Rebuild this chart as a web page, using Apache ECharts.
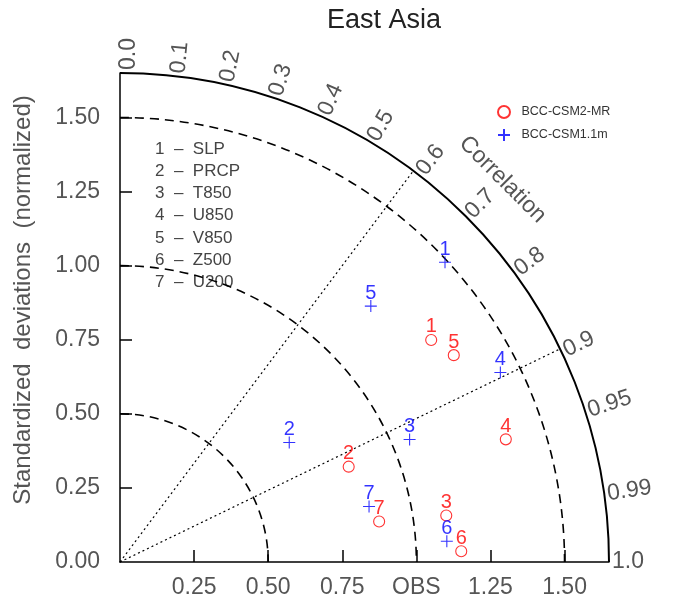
<!DOCTYPE html>
<html><head><meta charset="utf-8">
<script src="https://cdn.jsdelivr.net/npm/echarts@6/dist/echarts.min.js"></script>
<style>html,body{margin:0;padding:0;background:#fff}#c{width:676px;height:599px}</style>
</head><body><div id="c"></div>
<script>
// ---- data ----
const chartTitle = 'East Asia';
const variables = ['SLP', 'PRCP', 'T850', 'U850', 'V850', 'Z500', 'U200'];
const models = ['BCC-CSM2-MR', 'BCC-CSM1.1m'];
// normalized standard deviations and correlations
const stdMR   = [1.290, 0.836, 1.112, 1.366, 1.325, 1.152, 0.885];
const corrMR  = [0.814, 0.923, 0.990, 0.953, 0.850, 0.9995, 0.988];
const std11   = [1.492, 0.699, 1.061, 1.434, 1.209, 1.105, 0.861];
const corr11  = [0.735, 0.817, 0.921, 0.895, 0.700, 0.998, 0.976];
// axes
const maxStd = 1.65;
const xTicks = [0.25, 0.5, 0.75, 1.0, 1.25, 1.5];
const xTickLabels = ['0.25', '0.50', '0.75', 'OBS', '1.25', '1.50'];
const yTicks = [0, 0.25, 0.5, 0.75, 1.0, 1.25, 1.5];
const yTickLabels = ['0.00', '0.25', '0.50', '0.75', '1.00', '1.25', '1.50'];
const stdArcs = [0.5, 1.0, 1.5];
const corrTicks = [0, 0.1, 0.2, 0.3, 0.4, 0.5, 0.6, 0.7, 0.8, 0.9, 0.95, 0.99, 1.0];
const corrTickLabels = ['0.0', '0.1', '0.2', '0.3', '0.4', '0.5', '0.6', '0.7', '0.8', '0.9', '0.95', '0.99', '1.0'];
const corrLines = [0.6, 0.9];
const corrAxisName = 'Correlation';
const yAxisName = 'Standardized deviations (normalized)';

// ---- chart ----
const FONT = '"Liberation Sans", Arial, sans-serif';
const GREY = '#555';
const toXY = (s, r) => [s * r, s * Math.sqrt(Math.max(0, 1 - r * r))];

const chart = echarts.init(document.getElementById('c'), null, {renderer: 'canvas'});

function arcSeries(radii, dash, width) {
  return {
    type: 'custom', coordinateSystem: 'cartesian2d', silent: true, z: 1,
    data: radii.map(r => [r, 0]),
    renderItem(params, api) {
      const c = api.coord([0, 0]);
      const rp = api.size([api.value(0), 0])[0];
      return {type: 'arc', shape: {cx: c[0], cy: c[1], r: rp, startAngle: -Math.PI / 2, endAngle: 0, clockwise: true},
        style: {stroke: '#000', fill: null, lineWidth: width, lineDash: dash}};
    }
  };
}

const plusPath = 'path://M0,6L12,6M6,0L6,12';

const option = {
  animation: false,
  title: {text: chartTitle, left: 379, textAlign: 'center', top: 2,
    textStyle: {fontSize: 27, fontWeight: 'normal', color: '#222', fontFamily: FONT}},
  legend: {orient: 'vertical', left: 492, top: 100, itemWidth: 25, itemHeight: 12, itemGap: 9,
    data: models, selectedMode: false,
    textStyle: {fontSize: 12.5, color: '#333', fontFamily: FONT}},
  grid: {left: 120, top: 73, width: 489, height: 489, containLabel: false},
  xAxis: {type: 'value', min: 0, max: maxStd,
    axisLine: {show: true, onZero: false, lineStyle: {color: '#000', width: 1.5}},
    axisTick: {show: true, inside: true, length: 12, customValues: xTicks, lineStyle: {color: '#000', width: 1.5}},
    axisLabel: {customValues: xTicks, formatter: v => xTickLabels[xTicks.indexOf(v)] || '', margin: 14,
      fontSize: 23, color: GREY, fontFamily: FONT},
    splitLine: {show: false}},
  yAxis: {type: 'value', min: 0, max: maxStd,
    axisLine: {show: true, onZero: false, lineStyle: {color: '#000', width: 1.5}},
    axisTick: {show: true, inside: true, length: 12, customValues: yTicks.slice(1), lineStyle: {color: '#000', width: 1.5}},
    axisLabel: {customValues: yTicks, formatter: v => yTickLabels[yTicks.indexOf(v)] || '', margin: 20,
      fontSize: 23, color: GREY, fontFamily: FONT},
    splitLine: {show: false}},
  graphic: [
    {type: 'text', x: 23, y: 300, rotation: Math.PI / 2,
      style: {text: yAxisName.split(' ').join('  '), align: 'center', verticalAlign: 'middle', fontSize: 24, fill: GREY, fontFamily: FONT}},
    {type: 'text', left: 155, top: 138,
      style: {text: variables.map((v, i) => (i + 1) + '  \u2013  ' + v).join('\n'), lineHeight: 22.2,
        fontSize: 17, fill: '#444', fontFamily: FONT}}
  ],
  series: [
    arcSeries([maxStd], null, 2),
    arcSeries(stdArcs, [9, 6], 1.6),
    {type: 'custom', coordinateSystem: 'cartesian2d', silent: true, z: 1,
      data: corrLines.map(r => toXY(maxStd, r)),
      renderItem(params, api) {
        const o = api.coord([0, 0]);
        const p = api.coord([api.value(0), api.value(1)]);
        return {type: 'line', shape: {x1: o[0], y1: o[1], x2: p[0], y2: p[1]},
          style: {stroke: '#000', lineWidth: 1.2, lineDash: [2, 3]}};
      }},
    {type: 'custom', coordinateSystem: 'cartesian2d', silent: true, z: 3,
      data: corrTicks.map(r => toXY(maxStd, r)),
      renderItem(params, api) {
        const i = params.dataIndex;
        const th = Math.acos(corrTicks[i]);
        const p = api.coord([api.value(0), api.value(1)]);
        const rad = 3, perp = 9 * Math.sin(th);
        const x = p[0] + rad * Math.cos(th) + perp * Math.sin(th);
        const y = p[1] - rad * Math.sin(th) + perp * Math.cos(th);
        return {type: 'text', x: x, y: y, rotation: th,
          style: {text: corrTickLabels[i], align: 'left', verticalAlign: 'middle', fontSize: 23, fill: GREY, fontFamily: FONT}};
      }},
    {type: 'custom', coordinateSystem: 'cartesian2d', silent: true, z: 3,
      data: [toXY(1.825, Math.cos(Math.PI / 4))],
      renderItem(params, api) {
        const p = api.coord([api.value(0), api.value(1)]);
        return {type: 'text', x: p[0], y: p[1], rotation: -Math.PI / 4,
          style: {text: corrAxisName, align: 'center', verticalAlign: 'middle', fontSize: 23, fill: GREY, fontFamily: FONT}};
      }},
    {name: models[0], type: 'scatter', z: 5, symbol: 'circle', symbolSize: 11,
      data: stdMR.map((s, i) => toXY(s, corrMR[i])),
      itemStyle: {color: 'transparent', borderColor: '#ff0000', borderWidth: 1.1},
      label: {show: true, position: 'top', distance: -3, formatter: p => String(p.dataIndex + 1),
        color: '#ff0000', fontSize: 20, fontFamily: FONT},
      emphasis: {disabled: true}},
    {name: models[1], type: 'scatter', z: 5, symbol: plusPath, symbolSize: 12,
      data: std11.map((s, i) => toXY(s, corr11[i])),
      itemStyle: {color: 'transparent', borderColor: '#0000ff', borderWidth: 1.1},
      label: {show: true, position: 'top', distance: -3.5, formatter: p => String(p.dataIndex + 1),
        color: '#0000ff', fontSize: 20, fontFamily: FONT},
      emphasis: {disabled: true}}
  ]
};
chart.setOption(option);
</script>
</body></html>
